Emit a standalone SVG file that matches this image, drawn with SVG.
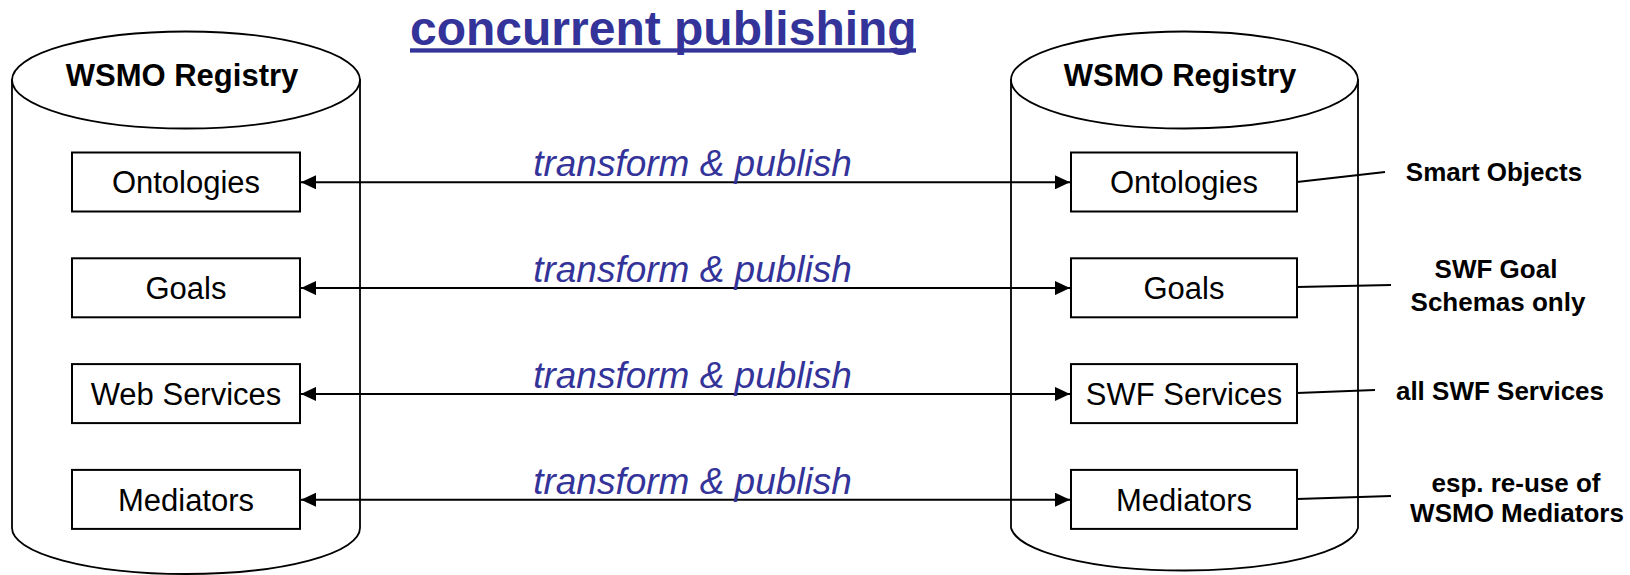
<svg xmlns="http://www.w3.org/2000/svg" width="1630" height="575" viewBox="0 0 1630 575">
  <defs>
    <marker id="arrowhead" viewBox="0 0 15 14" refX="15" refY="7" markerWidth="15" markerHeight="14" markerUnits="userSpaceOnUse" orient="auto-start-reverse">
      <path d="M0,0 L15,7 L0,14 Z" fill="#000"/>
    </marker>
    <style>
      .cyl { fill: #fff; stroke: #000; stroke-width: 1.8; }
      .box { fill: #fff; stroke: #000; stroke-width: 2; }
      .reg { font-family: "Liberation Sans", Arial, sans-serif; font-weight: bold; font-size: 31px; fill: #000; text-anchor: middle; }
      .lbl { font-family: "Liberation Sans", Arial, sans-serif; font-size: 31px; fill: #000; text-anchor: middle; }
      .flow { font-family: "Liberation Sans", Arial, sans-serif; font-style: italic; font-size: 37px; fill: #333399; text-anchor: middle; }
      .note { font-family: "Liberation Sans", Arial, sans-serif; font-weight: bold; font-size: 26px; fill: #000; text-anchor: middle; }
      .link { stroke: #000; stroke-width: 2; fill: none; }
      .title { font-family: "Liberation Sans", Arial, sans-serif; font-weight: bold; font-size: 48px; fill: #333399; }
    </style>
  </defs>

  <!-- heading -->
  <g id="title">
    <text class="title" x="410" y="45">concurrent publishing</text>
    <rect x="410" y="48.3" width="506" height="4.3" fill="#333399"/>
  </g>

  <!-- left registry -->
  <g id="registry-left">
    <path class="cyl" d="M12,80 L12,528 A174,46 0 0 0 360,528 L360,80 Z"/>
    <ellipse class="cyl" cx="186" cy="80" rx="174" ry="48.5"/>
    <text class="reg" x="182" y="86">WSMO Registry</text>
  </g>

  <!-- right registry -->
  <g id="registry-right">
    <path class="cyl" d="M1011,80 L1011,528 A174,46 0 0 0 1358,528 L1358,80 Z"/>
    <ellipse class="cyl" cx="1184.5" cy="80" rx="173.5" ry="48.5"/>
    <text class="reg" x="1180" y="86">WSMO Registry</text>
  </g>

  <!-- left entries -->
  <g id="left-ontologies"><rect class="box" x="72" y="152.5" width="228" height="59"/><text class="lbl" x="186" y="193">Ontologies</text></g>
  <g id="left-goals"><rect class="box" x="72" y="258.3" width="228" height="59"/><text class="lbl" x="186" y="299">Goals</text></g>
  <g id="left-webservices"><rect class="box" x="72" y="364.1" width="228" height="59"/><text class="lbl" x="186" y="405">Web Services</text></g>
  <g id="left-mediators"><rect class="box" x="72" y="469.9" width="228" height="59"/><text class="lbl" x="186" y="510.5">Mediators</text></g>

  <!-- right entries -->
  <g id="right-ontologies"><rect class="box" x="1071" y="152.5" width="226" height="59"/><text class="lbl" x="1184" y="193">Ontologies</text></g>
  <g id="right-goals"><rect class="box" x="1071" y="258.3" width="226" height="59"/><text class="lbl" x="1184" y="299">Goals</text></g>
  <g id="right-swfservices"><rect class="box" x="1071" y="364.1" width="226" height="59"/><text class="lbl" x="1184" y="405">SWF Services</text></g>
  <g id="right-mediators"><rect class="box" x="1071" y="469.9" width="226" height="59"/><text class="lbl" x="1184" y="510.5">Mediators</text></g>

  <!-- side notes -->
  <g id="note-smart-objects"><text class="note" x="1494" y="181">Smart Objects</text></g>
  <g id="note-goal-schemas"><text class="note" x="1496" y="278">SWF Goal</text><text class="note" x="1498" y="311">Schemas only</text></g>
  <g id="note-swf-services"><text class="note" x="1500" y="400">all SWF Services</text></g>
  <g id="note-mediators"><text class="note" x="1516" y="492">esp. re-use of</text><text class="note" x="1517" y="522">WSMO Mediators</text></g>

  <!-- connectors -->
  <g id="connectors">
    <line class="link" x1="301" y1="182.3" x2="1070" y2="182.3" marker-start="url(#arrowhead)" marker-end="url(#arrowhead)"/>
    <line class="link" x1="301" y1="288.1" x2="1070" y2="288.1" marker-start="url(#arrowhead)" marker-end="url(#arrowhead)"/>
    <line class="link" x1="301" y1="393.9" x2="1070" y2="393.9" marker-start="url(#arrowhead)" marker-end="url(#arrowhead)"/>
    <line class="link" x1="301" y1="499.7" x2="1070" y2="499.7" marker-start="url(#arrowhead)" marker-end="url(#arrowhead)"/>

    <text class="flow" x="692.5" y="176">transform &amp; publish</text>
    <text class="flow" x="692.5" y="282">transform &amp; publish</text>
    <text class="flow" x="692.5" y="388">transform &amp; publish</text>
    <text class="flow" x="692.5" y="494">transform &amp; publish</text>

    <line class="link" x1="1297" y1="182" x2="1385" y2="172"/>
    <line class="link" x1="1297" y1="287" x2="1391" y2="285"/>
    <line class="link" x1="1297" y1="393" x2="1375" y2="390"/>
    <line class="link" x1="1297" y1="499" x2="1391" y2="496"/>
  </g>
</svg>
